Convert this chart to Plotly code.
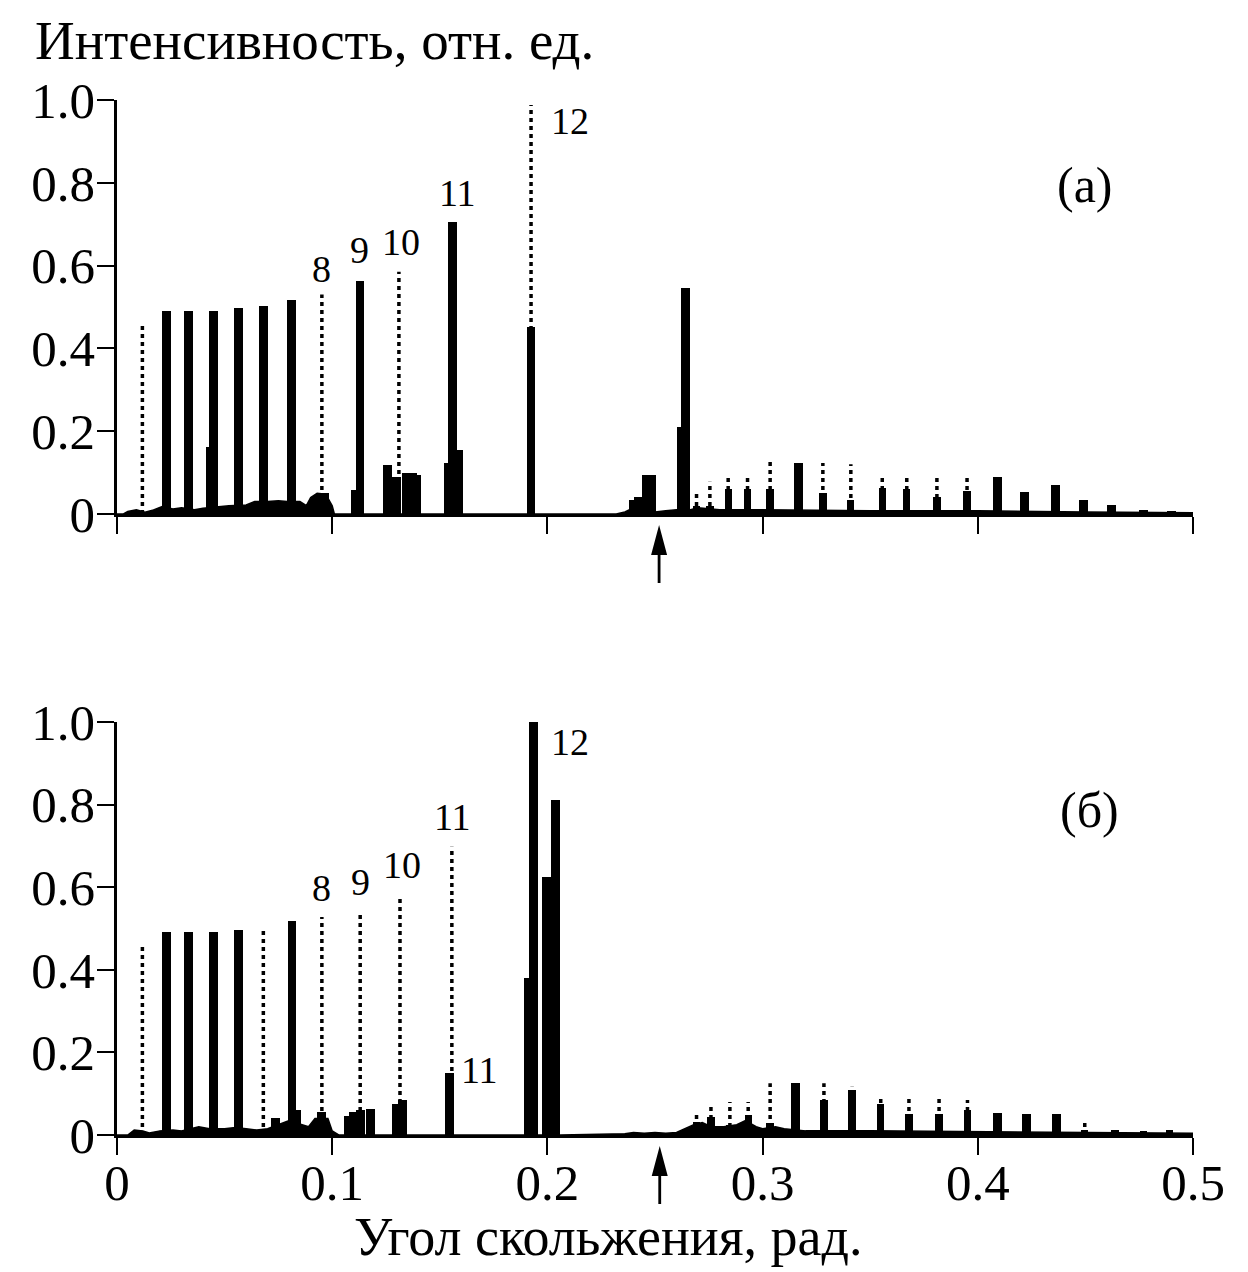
import plotly.graph_objects as go

FONT = "Liberation Serif"

# ---------------- data: panel (а) ----------------
a_peak_x = [0.0230, 0.0331, 0.0448, 0.0564, 0.0680, 0.0810, 0.1130, 0.1560, 0.1924, 0.2642]
a_peak_y = [0.490, 0.490, 0.490, 0.497, 0.503, 0.517, 0.562, 0.706, 0.452, 0.546]

a_block_x = [0.0435, 0.0935, 0.0965, 0.1108, 0.1255, 0.1300, 0.1345, 0.1372, 0.1390,
             0.1540, 0.1585, 0.2400, 0.2425, 0.2460, 0.2485, 0.2622, 0.3166,
             0.4090, 0.4215, 0.4360, 0.4490, 0.4620, 0.4770, 0.4900]
a_block_y = [0.163, 0.045, 0.050, 0.058, 0.118, 0.090, 0.100, 0.100, 0.095,
             0.123, 0.155, 0.035, 0.042, 0.094, 0.094, 0.210, 0.123,
             0.090, 0.053, 0.070, 0.035, 0.022, 0.010, 0.008]

a_dot_x = [0.0118, 0.0952, 0.1310, 0.1924, 0.2693, 0.2755, 0.2840, 0.2930, 0.3035,
           0.3280, 0.3410, 0.3556, 0.3670, 0.3810, 0.3950]
a_dot_y = [0.460, 0.530, 0.585, 0.988, 0.050, 0.078, 0.090, 0.090, 0.126,
           0.123, 0.120, 0.090, 0.090, 0.090, 0.087]

a_small_x = [0.2693, 0.2755, 0.2840, 0.2930, 0.3035, 0.3280, 0.3410, 0.3556, 0.3670, 0.3810, 0.3950]
a_small_y = [0.020, 0.020, 0.060, 0.060, 0.060, 0.050, 0.034, 0.062, 0.060, 0.040, 0.056]

a_bg_x = [0.000, 0.003, 0.005, 0.009, 0.013, 0.017, 0.021, 0.026, 0.030, 0.036, 0.040, 0.047,
          0.052, 0.060, 0.064, 0.070, 0.075, 0.079, 0.085, 0.088, 0.090, 0.093, 0.097, 0.100,
          0.101, 0.232, 0.236, 0.240, 0.250, 0.255, 0.260, 0.266, 0.270, 0.280, 0.300, 0.350,
          0.400, 0.450, 0.500]
a_bg_y = [0.000, 0.000, 0.006, 0.010, 0.004, 0.010, 0.018, 0.012, 0.015, 0.010, 0.014, 0.018,
          0.020, 0.022, 0.030, 0.030, 0.032, 0.030, 0.030, 0.020, 0.040, 0.050, 0.048, 0.020,
          0.000, 0.000, 0.005, 0.015, 0.005, 0.008, 0.010, 0.010, 0.015, 0.010, 0.010, 0.008,
          0.008, 0.005, 0.003]

a_lab_text = ["8", "9", "10", "11", "12"]
a_lab_x = [0.0952, 0.1128, 0.1318, 0.1580, 0.2103]
a_lab_y = [0.592, 0.638, 0.657, 0.775, 0.949]

# ---------------- data: panel (б) ----------------
b_peak_x = [0.0230, 0.0331, 0.0448, 0.0565, 0.0813, 0.1935, 0.2037]
b_peak_y = [0.492, 0.492, 0.492, 0.496, 0.517, 1.000, 0.810]

b_block_x = [0.0735, 0.0835, 0.0952, 0.1075, 0.1100, 0.1130, 0.1180, 0.1300, 0.1325,
             0.1545, 0.1910, 0.1994, 0.3152, 0.4090, 0.4225, 0.4365]
b_block_y = [0.040, 0.060, 0.056, 0.045, 0.055, 0.060, 0.062, 0.075, 0.085,
             0.150, 0.380, 0.625, 0.125, 0.053, 0.050, 0.050]

b_dot_x = [0.0118, 0.0680, 0.0952, 0.1130, 0.1315, 0.1556, 0.2693, 0.2760, 0.2848, 0.2933,
           0.3035, 0.3285, 0.3416, 0.3549, 0.3680, 0.3820, 0.3952, 0.4497]
b_dot_y = [0.460, 0.496, 0.528, 0.540, 0.580, 0.698, 0.053, 0.070, 0.080, 0.080,
           0.125, 0.125, 0.117, 0.093, 0.090, 0.090, 0.085, 0.036]

b_small_x = [0.2693, 0.2760, 0.2848, 0.2933, 0.3035, 0.3285, 0.3416, 0.3549, 0.3680, 0.3820,
             0.3952, 0.4497, 0.4637, 0.4770, 0.4890]
b_small_y = [0.032, 0.043, 0.025, 0.048, 0.030, 0.085, 0.110, 0.075, 0.050, 0.050,
             0.060, 0.012, 0.012, 0.010, 0.012]

b_bg_x = [0.000, 0.005, 0.008, 0.012, 0.015, 0.020, 0.026, 0.030, 0.038, 0.043, 0.050, 0.055,
          0.060, 0.065, 0.070, 0.077, 0.080, 0.086, 0.089, 0.092, 0.098, 0.100, 0.103, 0.206,
          0.236, 0.240, 0.245, 0.250, 0.255, 0.260, 0.264, 0.268, 0.272, 0.276, 0.282, 0.288,
          0.292, 0.297, 0.300, 0.306, 0.310, 0.320, 0.350, 0.400, 0.450, 0.500]
b_bg_y = [0.000, 0.000, 0.012, 0.010, 0.005, 0.010, 0.012, 0.010, 0.020, 0.015, 0.015, 0.018,
          0.015, 0.012, 0.015, 0.030, 0.035, 0.025, 0.020, 0.040, 0.040, 0.010, 0.000, 0.000,
          0.003, 0.006, 0.004, 0.006, 0.004, 0.006, 0.015, 0.025, 0.030, 0.020, 0.020, 0.025,
          0.035, 0.020, 0.015, 0.020, 0.015, 0.010, 0.010, 0.008, 0.006, 0.004]

b_lab_text = ["8", "9", "10", "11", "12", "11"]
b_lab_x = [0.0952, 0.1130, 0.1325, 0.1557, 0.2103, 0.1683]
b_lab_y = [0.598, 0.613, 0.654, 0.771, 0.952, 0.157]

arrow_x = [0.2519, 0.2522]
panel_names = ["(а)", "(б)"]

x_ticks = [0, 0.1, 0.2, 0.3, 0.4, 0.5]
x_ticktext = ["0", "0.1", "0.2", "0.3", "0.4", "0.5"]
y_ticks = [0, 0.2, 0.4, 0.6, 0.8, 1.0]
y_ticktext = ["0", "0.2", "0.4", "0.6", "0.8", "1.0"]

# ---------------- figure ----------------
fig = go.Figure()


def segs(xs, ys):
    X, Y = [], []
    for x, y in zip(xs, ys):
        X += [x, x, None]
        Y += [0, y, None]
    return X, Y


def add_panel(xa, ya, bgx, bgy, px, py, bx, by, sx, sy, dx, dy):
    fig.add_trace(go.Scatter(x=bgx, y=bgy, mode="lines", fill="tozeroy",
                             line=dict(color="black", width=1.5), fillcolor="black",
                             xaxis=xa, yaxis=ya, showlegend=False, hoverinfo="skip"))
    fig.add_trace(go.Bar(x=bx, y=by, width=0.0042, marker=dict(color="black", line=dict(width=0)),
                         xaxis=xa, yaxis=ya, showlegend=False))
    fig.add_trace(go.Bar(x=sx, y=sy, width=0.0034, marker=dict(color="black", line=dict(width=0)),
                         xaxis=xa, yaxis=ya, showlegend=False))
    fig.add_trace(go.Bar(x=px, y=py, width=0.0040, marker=dict(color="black", line=dict(width=0)),
                         xaxis=xa, yaxis=ya, showlegend=False))
    X, Y = segs(dx, dy)
    fig.add_trace(go.Scatter(x=X, y=Y, mode="lines",
                             line=dict(color="black", width=3.5, dash="4px,4px"),
                             xaxis=xa, yaxis=ya, showlegend=False, hoverinfo="skip"))


add_panel("x", "y", a_bg_x, a_bg_y, a_peak_x, a_peak_y, a_block_x, a_block_y,
          a_small_x, a_small_y, a_dot_x, a_dot_y)
add_panel("x2", "y2", b_bg_x, b_bg_y, b_peak_x, b_peak_y, b_block_x, b_block_y,
          b_small_x, b_small_y, b_dot_x, b_dot_y)

tickfont = dict(family=FONT, size=51, color="black")
common_x = dict(range=[0, 0.5], showline=True, linecolor="black", linewidth=2.5,
                ticks="outside", ticklen=17, tickwidth=2, tickcolor="black",
                tickvals=x_ticks, ticktext=x_ticktext, showgrid=False, zeroline=False,
                tickfont=tickfont, ticklabelstandoff=-16)
common_y = dict(range=[0, 1], showline=True, linecolor="black", linewidth=2.5,
                ticks="outside", ticklen=17, tickwidth=2, tickcolor="black",
                tickvals=y_ticks, ticktext=y_ticktext, showgrid=False, zeroline=False,
                tickfont=tickfont, ticklabelstandoff=-8)

annotations = []
for t, x, y in zip(a_lab_text, a_lab_x, a_lab_y):
    annotations.append(dict(text=t, x=x, y=y, xref="x", yref="y", showarrow=False,
                            font=dict(family=FONT, size=38, color="black")))
for t, x, y in zip(b_lab_text, b_lab_x, b_lab_y):
    annotations.append(dict(text=t, x=x, y=y, xref="x2", yref="y2", showarrow=False,
                            font=dict(family=FONT, size=38, color="black")))
annotations.append(dict(text=panel_names[0], x=0.450, y=0.795, xref="x", yref="y",
                        showarrow=False, font=dict(family=FONT, size=50, color="black")))
annotations.append(dict(text=panel_names[1], x=0.4517, y=0.787, xref="x2", yref="y2",
                        showarrow=False, font=dict(family=FONT, size=50, color="black")))
annotations.append(dict(text="Интенсивность, отн. ед.", x=0, xshift=-84, xanchor="left",
                        y=1, yref="paper", xref="paper", yanchor="middle", yshift=60,
                        showarrow=False, font=dict(family=FONT, size=55, color="black")))
annotations.append(dict(text="Угол скольжения, рад.", x=0.457, xref="paper", y=0, yref="paper",
                        yshift=-102, yanchor="middle", showarrow=False,
                        font=dict(family=FONT, size=54, color="black")))

arrow_path = "M0,-11 L-8,-41 L-1.4,-41 L-1.4,-69 L1.4,-69 L1.4,-41 L8,-41 Z"
shapes = []
for xa, ya, ax in [("x", "y domain", arrow_x[0]), ("x2", "y2 domain", arrow_x[1])]:
    shapes.append(dict(type="path", xref=xa, yref=ya, xsizemode="pixel", ysizemode="pixel",
                       xanchor=ax, yanchor=0, path=arrow_path, fillcolor="black",
                       line=dict(width=0)))

fig.update_layout(
    width=1248, height=1272,
    margin=dict(l=117, r=55, t=100, b=137),
    paper_bgcolor="white", plot_bgcolor="white",
    barmode="overlay", bargap=0,
    showlegend=False,
    xaxis=dict(domain=[0, 1], anchor="y", showticklabels=False, **common_x),
    yaxis=dict(domain=[0.6, 1.0], anchor="x", **common_y),
    xaxis2=dict(domain=[0, 1], anchor="y2", showticklabels=True, **common_x),
    yaxis2=dict(domain=[0, 0.399], anchor="x2", **common_y),
    annotations=annotations,
    shapes=shapes,
)

fig.write_html("out.html")
